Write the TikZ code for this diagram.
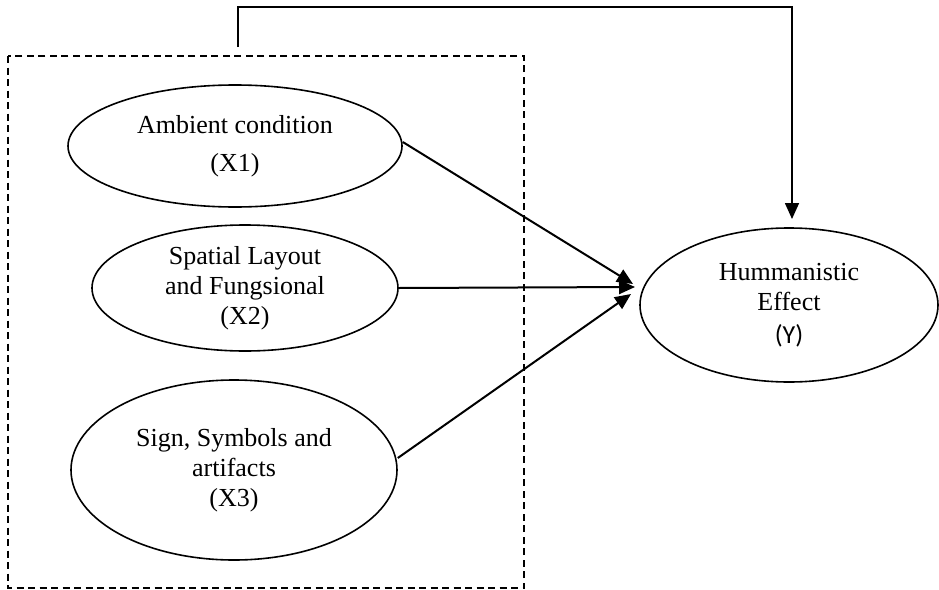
\documentclass[tikz,border=0pt]{standalone}
\usepackage{fontspec}
\setmainfont{Liberation Serif}
\newfontfamily\yfont{Carlito}
\usetikzlibrary{shapes.geometric, arrows.meta, positioning}
\tikzstyle{arrow} = [-{Triangle[length=16pt, width=14pt]}, line width=2pt, draw=black]
\tikzset{
    construct/.style={ellipse, draw=black, line width=1.6pt, inner sep=0pt,
        align=center, font=\fontsize{26}{30}\selectfont},
    groupbox/.style={draw=black, line width=1.4pt, dash pattern=on 7pt off 4.5pt},
}

\begin{document}
\begin{tikzpicture}[x=1pt, y=-1pt]
    \useasboundingbox (0,0) rectangle (939,589);

    % exogenous constructs
    \node[construct, minimum width=334pt, minimum height=122pt] (x1) at (235,146)
        {Ambient condition\\[8pt](X1)};
    \node[construct, minimum width=306pt, minimum height=126pt] (x2) at (245,288)
        {Spatial Layout\\and Fungsional\\(X2)};
    \node[construct, minimum width=326pt, minimum height=180pt] (x3) at (234,470)
        {Sign, Symbols and\\artifacts\\(X3)};

    % endogenous construct
    \node[construct, minimum width=298pt, minimum height=154pt] (y) at (789,305)
        {Hummanistic\\Effect\\[3pt]{\yfont(Y)}};

    % dashed group round the X block
    \draw[groupbox] (8,56) rectangle (524,588);

    % arrow tips in front of Y
    \coordinate (t1) at (633,284);
    \coordinate (t2) at (635,287);
    \coordinate (t3) at (631,294);
    \coordinate (top) at (238,47);
    \coordinate (ytop) at (792,219);

    \draw[arrow] ([yshift=4pt]x1.east) -- (t1);
    \draw[arrow] (x2.east) -- (t2);
    \draw[arrow] ([yshift=12pt]x3.east) -- (t3);

    % joint effect of the group
    \draw[arrow, line width=1.6pt] (top) |- (792,7) -- (ytop);
\end{tikzpicture}
\end{document}
